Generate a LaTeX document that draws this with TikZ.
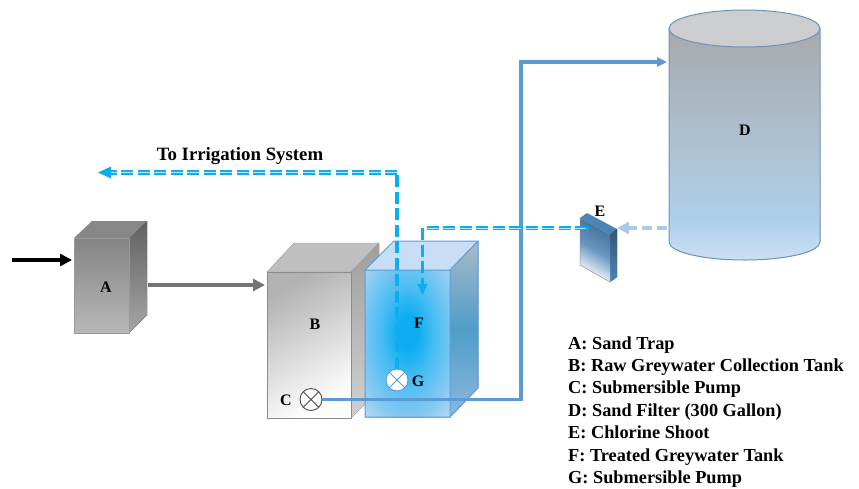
\documentclass[tikz,border=0pt]{standalone}
\usepackage{fontspec}
\setmainfont{Liberation Serif}
\usepackage{tikz}
\usetikzlibrary{arrows.meta, positioning, shapes.geometric, calc}

\definecolor{pipeblue}{HTML}{5B9BD5}
\definecolor{dashblue}{HTML}{0CAEF0}
\definecolor{paleblue}{HTML}{A9CBEA}
\definecolor{drumtop}{HTML}{A8AAAC}
\definecolor{drummid}{HTML}{B0D0EC}
\definecolor{drumlow}{HTML}{CDE0F2}
\definecolor{drumlid}{HTML}{CCCDCF}
\definecolor{drumedge}{HTML}{6F93B8}
\definecolor{glowmid}{HTML}{4ABDF3}
\definecolor{glowrim}{HTML}{85C9F2}
\definecolor{glowpale}{HTML}{C8DEF6}
\definecolor{sidetop}{HTML}{A9B9CB}
\definecolor{sidemid}{HTML}{4F9DC8}
\definecolor{sidelow}{HTML}{8DB8DE}

\pgfdeclareradialshading{tankglow}{\pgfpoint{0bp}{4bp}}{color(0bp)=(dashblue); color(6bp)=(dashblue); color(16bp)=(glowmid); color(28bp)=(glowrim); color(40bp)=(glowpale); color(70bp)=(glowpale)}

\tikzset{
    tag/.style={font=\bfseries\fontsize{16}{16}\selectfont, inner sep=0pt},
    legend/.style={font=\bfseries\fontsize{18.3}{18.3}\selectfont, inner sep=0pt, anchor=base west},
    pump/.style={circle, draw=#1, fill=white, minimum size=22pt, inner sep=0pt, line width=0.9pt, path picture={
        \draw[#1, line width=0.9pt] (path picture bounding box.north west) -- (path picture bounding box.south east)
            (path picture bounding box.north east) -- (path picture bounding box.south west);}},
    dashpipe/.style={draw=dashblue, line width=1.9pt, double=dashblue!30!white, double distance=0.7pt, dash pattern=on 12pt off 4.5pt},
    dashrun/.style={draw=dashblue, line width=4.2pt, dash pattern=on 12pt off 4.5pt},
}

\begin{document}
\begin{tikzpicture}[x=1pt, y=-1pt]
        \useasboundingbox (0,0) rectangle (859,488);

        % Sand trap
        \fill[top color=black!62, bottom color=black!35] (129,238) -- (147,221) -- (147,315) -- (129,333) -- cycle;
        \fill[black!47] (74,238) -- (92,221) -- (147,221) -- (129,238) -- cycle;
        \draw[top color=black!48, bottom color=black!28, draw=black!40, line width=0.8pt] (74,238) rectangle (129,333);
        \node[tag] (trapA) at (106,287) {A};

        % Raw greywater tank
        \fill[top color=black!38, bottom color=black!18] (351,272) -- (379,243) -- (379,390) -- (351,418) -- cycle;
        \fill[black!25, draw=black!40] (267,272) -- (294,243) -- (379,243) -- (351,272) -- cycle;
        \fill[top color=black!30, bottom color=white, shading angle=30] (267,272) rectangle (351,418);
        \draw[black!45, line width=1pt] (267,272) rectangle (351,418);
        \node[tag] (tankB) at (315,324) {B};

        % Treated greywater tank
        \fill[top color=sidetop, bottom color=sidelow, middle color=sidemid] (450,270) -- (478,241) -- (478,388) -- (450,417) -- cycle;
        \fill[glowpale] (365,270) -- (394,241) -- (478,241) -- (450,270) -- cycle;
        \shade[shading=tankglow] (365,270) rectangle (450,417);
        \draw[pipeblue, line width=1pt] (365,270) rectangle (450,417)
            (365,270) -- (394,241) -- (478,241) -- (450,270)
            (478,241) -- (478,388) -- (450,417);
        \node[tag] (tankF) at (419,323) {F};

        % Sand filter
        \fill[top color=drumtop, bottom color=drummid, middle color=drumtop!50!drummid] (669,28) rectangle (820,225);
        \fill[top color=drummid, bottom color=drumlow] (669,224) -- (669,242) arc[start angle=180, end angle=0, x radius=75.5, y radius=18] -- (820,224) -- cycle;
        \draw[drumedge, line width=1pt] (669,28) -- (669,242) arc[start angle=180, end angle=0, x radius=75.5, y radius=18] -- (820,28);
        \draw[fill=drumlid, draw=drumedge, line width=1pt] (744.5,28.5) ellipse[x radius=75.5, y radius=18.5];
        \node[tag] (filterD) at (745,130) {D};

        % Chlorine shoot
        \fill[pipeblue!85!black] (580,218) -- (587,213) -- (617,229) -- (610,235) -- cycle;
        \fill[top color=pipeblue!55!black, bottom color=pipeblue!85!black] (610,235) -- (617,229) -- (617,277) -- (610,282) -- cycle;
        \shade[top color=pipeblue!70!black, bottom color=white, middle color=pipeblue!85!black!85, shading angle=-30] (580,218) -- (610,235) -- (610,282) -- (580,265) -- cycle;
        \draw[black!45, line width=0.5pt] (580,218) -- (580,265) -- (610,282);
        \coordinate (shootE) at (587,228);
        \coordinate (shootback) at (617,228);
        \node[tag] (labelE) at (600,211) {E};

        % Pumps
        \node[pump=black!70] (pumpC) at (311,399.5) {};
        \node[pump=pipeblue] (pumpG) at (397,380) {};
        \node[tag] (labelC) at (286,400) {C};
        \node[tag] (labelG) at (418,381) {G};

        % Corner points
        \coordinate (feed) at (12,260);
        \coordinate (trapin) at (72,260);
        \coordinate (trapout) at (148,285);
        \coordinate (tankin) at (265,285);
        \coordinate (irrigend) at (98,172.5);
        \coordinate (irrigcorner) at (397,172.5);
        \coordinate (dropcorner) at (422.5,228);
        \coordinate (dropend) at (422.5,295);
        \coordinate (risecorner) at (521,399.5);
        \coordinate (risetop) at (521,62);
        \coordinate (filterin) at (667,62);
        \coordinate (filterout) at (667,228);

        % Flow lines
        \draw[-{Triangle[length=12pt,width=12pt]}, line width=3.3pt] (feed) -- (trapin);
        \draw[-{Triangle[length=12pt,width=12pt]}, line width=3.5pt, black!55] (trapout) -- (tankin);
        \draw[-{Triangle[length=10pt,width=9pt]}, line width=3.2pt, pipeblue] (pumpC.east) -- (risecorner) -- (risetop) -- (filterin);
        \draw[dashrun] (pumpG.north) -- (irrigcorner);
        \draw[dashpipe] (irrigcorner) -- ($(irrigend)+(12,0)$);
        \fill[dashblue] (irrigend) -- ++(13,-6) -- ++(0,12) -- cycle;
        \draw[dashpipe, line width=1.6pt, double distance=0.6pt] (shootE) -- (dropcorner);
        \draw[dashrun, line width=3pt] (dropcorner) -- ($(dropend)+(0,-9)$);
        \fill[dashblue] (dropend) -- ++(-5,-11) -- ++(10,0) -- cycle;
        \fill[dashblue] (shootE) ++(0,4) -- ++(-2.5,-5) -- ++(5,0) -- cycle;
        \draw[paleblue, line width=3.5pt, dash pattern=on 10pt off 5pt, -{Triangle[length=12pt,width=12pt]}] (filterout) -- (shootback);

        % Text
        \node[font=\bfseries\fontsize{18.8}{18.8}\selectfont, inner sep=0pt, anchor=base] (irrigtext) at (240,160.5) {To Irrigation System};
        \node[legend] (legA) at (568,349) {A: Sand Trap};
        \node[legend] (legB) at (568,371) {B: Raw Greywater Collection Tank};
        \node[legend] (legC) at (568,393) {C: Submersible Pump};
        \node[legend] (legD) at (568,416) {D: Sand Filter (300 Gallon)};
        \node[legend] (legE) at (568,438) {E: Chlorine Shoot};
        \node[legend] (legF) at (568,461) {F: Treated Greywater Tank};
        \node[legend] (legG) at (568,483) {G: Submersible Pump};
\end{tikzpicture}
\end{document}
